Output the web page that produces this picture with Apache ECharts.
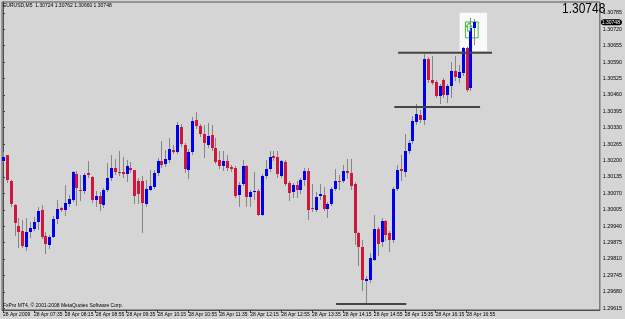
<!DOCTYPE html>
<html><head><meta charset="utf-8">
<script src="https://cdn.jsdelivr.net/npm/echarts@6/dist/echarts.min.js"></script>
<style>html,body{margin:0;padding:0;background:#d5d5d5}#c{width:625px;height:319px}</style>
</head><body><div id="c"></div>
<script>
const symbol = 'EURUSD,M5';
const copyright = 'FxPro MT4, \u00a9 2001-2008 MetaQuotes Software Corp.';
const opens = [1.30200,1.30220,1.30119,1.30024,1.29941,1.29921,1.29856,1.29917,1.29929,1.29957,
1.30006,1.29901,1.29866,1.29899,1.29969,1.30012,1.30004,1.30028,1.30044,1.30147,
1.30084,1.30078,1.30151,1.30135,1.30042,1.30060,1.30024,1.30084,1.30129,1.30169,
1.30155,1.30153,1.30147,1.30169,1.30161,1.30119,1.30119,1.30028,1.30085,1.30097,
1.30149,1.30198,1.30185,1.30202,1.30242,1.30234,1.30333,1.30262,1.30161,1.30232,
1.30361,1.30335,1.30305,1.30262,1.30301,1.30248,1.30202,1.30177,1.30198,1.30173,
1.30169,1.30064,1.30109,1.30177,1.30056,1.30074,1.30080,1.29986,1.30139,1.30167,
1.30218,1.30214,1.30139,1.30196,1.30111,1.30074,1.30105,1.30085,1.30123,1.30157,
1.30014,1.30006,1.30058,1.30064,1.30010,1.30028,1.30089,1.30119,1.30119,1.30159,
1.30149,1.30107,1.29913,1.29856,1.29721,1.29725,1.29808,1.29927,1.29879,1.29961,
1.29914,1.29887,1.30089,1.30165,1.30153,1.30236,1.30278,1.30351,1.30381,1.30359,
1.30601,1.30519,1.30511,1.30456,1.30519,1.30460,1.30496,1.30555,1.30525,1.30545,
1.30644,1.30486,1.30724];
const highs = [1.30234,1.30222,1.30121,1.30028,1.29973,1.29965,1.29973,1.29955,1.29976,1.30016,
1.30024,1.29917,1.29905,1.29980,1.30044,1.30016,1.30103,1.30064,1.30157,1.30157,
1.30143,1.30151,1.30200,1.30139,1.30078,1.30076,1.30091,1.30189,1.30222,1.30206,
1.30236,1.30216,1.30202,1.30196,1.30163,1.30131,1.30137,1.30123,1.30163,1.30163,
1.30210,1.30276,1.30242,1.30290,1.30262,1.30353,1.30345,1.30270,1.30246,1.30373,
1.30393,1.30345,1.30341,1.30347,1.30341,1.30290,1.30236,1.30236,1.30222,1.30183,
1.30179,1.30115,1.30202,1.30183,1.30084,1.30153,1.30087,1.30147,1.30202,1.30236,
1.30236,1.30236,1.30204,1.30202,1.30119,1.30111,1.30117,1.30131,1.30169,1.30169,
1.30107,1.30076,1.30109,1.30097,1.30036,1.30097,1.30167,1.30143,1.30183,1.30208,
1.30208,1.30115,1.29917,1.29887,1.29741,1.29834,1.29984,1.29937,1.29971,1.29965,
1.29921,1.30097,1.30183,1.30222,1.30305,1.30282,1.30375,1.30422,1.30400,1.30624,
1.30612,1.30614,1.30519,1.30504,1.30527,1.30504,1.30589,1.30614,1.30579,1.30650,
1.30650,1.30765,1.30762];
const lows = [1.30198,1.30115,1.30020,1.29905,1.29858,1.29856,1.29846,1.29897,1.29925,1.29929,
1.29893,1.29834,1.29854,1.29897,1.29953,1.30000,1.29984,1.30020,1.30040,1.30024,
1.30044,1.30072,1.30135,1.30036,1.30018,1.30004,1.30016,1.30080,1.30123,1.30147,
1.30143,1.30135,1.30117,1.30155,1.30032,1.30032,1.29918,1.30020,1.30084,1.30091,
1.30143,1.30175,1.30179,1.30194,1.30230,1.30230,1.30258,1.30155,1.30131,1.30226,
1.30329,1.30298,1.30216,1.30254,1.30242,1.30190,1.30171,1.30163,1.30163,1.30159,
1.30056,1.30018,1.30103,1.30020,1.30020,1.30046,1.29984,1.29984,1.30129,1.30159,
1.30204,1.30133,1.30133,1.30103,1.30044,1.30054,1.30054,1.30072,1.30103,1.29969,
1.30002,1.30000,1.30046,1.30004,1.29978,1.30024,1.30084,1.30089,1.30115,1.30129,
1.30089,1.29871,1.29786,1.29687,1.29638,1.29719,1.29806,1.29826,1.29860,1.29885,
1.29840,1.29879,1.30084,1.30123,1.30139,1.30230,1.30270,1.30345,1.30353,1.30345,
1.30511,1.30504,1.30450,1.30426,1.30452,1.30430,1.30450,1.30519,1.30513,1.30539,
1.30474,1.30480,1.30660];
const closes = [1.30216,1.30123,1.30028,1.29953,1.29917,1.29860,1.29917,1.29931,1.29957,1.30000,
1.29899,1.29868,1.29897,1.29969,1.30008,1.30006,1.30032,1.30048,1.30153,1.30093,
1.30080,1.30143,1.30143,1.30044,1.30060,1.30028,1.30084,1.30129,1.30169,1.30153,
1.30153,1.30145,1.30177,1.30161,1.30060,1.30068,1.30030,1.30089,1.30099,1.30149,
1.30198,1.30183,1.30208,1.30244,1.30234,1.30341,1.30266,1.30165,1.30234,1.30357,
1.30335,1.30307,1.30268,1.30298,1.30248,1.30196,1.30177,1.30198,1.30169,1.30165,
1.30060,1.30105,1.30177,1.30054,1.30076,1.30080,1.29986,1.30139,1.30167,1.30216,
1.30212,1.30147,1.30198,1.30109,1.30070,1.30105,1.30085,1.30123,1.30157,1.30006,
1.30008,1.30054,1.30068,1.30010,1.30028,1.30089,1.30119,1.30115,1.30159,1.30149,
1.30101,1.29914,1.29856,1.29725,1.29729,1.29812,1.29927,1.29871,1.29961,1.29907,
1.29885,1.30089,1.30163,1.30159,1.30236,1.30268,1.30355,1.30385,1.30359,1.30601,
1.30519,1.30509,1.30456,1.30496,1.30460,1.30496,1.30553,1.30529,1.30549,1.30644,
1.30480,1.30724,1.30748];

const xTickIndex = [0,8,16,24,32,40,48,56,64,72,80,88,96,104,112,120];
const xTickLabels = ['28 Apr 2009','28 Apr 07:35','28 Apr 08:15','28 Apr 08:55','28 Apr 09:35','28 Apr 10:15',
 '28 Apr 10:55','28 Apr 11:35','28 Apr 12:15','28 Apr 12:55','28 Apr 13:35','28 Apr 14:15','28 Apr 14:55',
 '28 Apr 15:35','28 Apr 16:15','28 Apr 16:55'];
const yTickValues = [1.29615,1.29680,1.29745,1.29810,1.29875,1.29940,1.30005,1.30070,1.30135,1.30200,
 1.30265,1.30330,1.30395,1.30460,1.30525,1.30590,1.30655,1.30720,1.30785];

// drawn trend-level objects: [fromBar, toBar, price]
const levelFrom = [102.3, 101.3, 86.2];
const levelTo = [126.6, 123.5, 104.4];
const levelPrice = [1.30627, 1.30412, 1.29632];
// highlight box around last bars: bars and prices
const boxBars = [118.2, 125.3];
const boxPrices = [1.30785, 1.30634];
const markBars = [119.7, 123.0];
const markPrices = [1.30749, 1.30686];
const arrowAt = [120.6, 1.30729];

const FONT = 'Liberation Sans, Arial, sans-serif';
const BULL = '#0000f0', BEAR = '#d0163c', WICK = '#858585';
const n = opens.length;
const lastO = opens[n-1], lastH = highs[n-1], lastL = lows[n-1], lastC = closes[n-1];
const candleData = opens.map((o, i) => [i, o, highs[i], lows[i], closes[i]]);

const chart = echarts.init(document.getElementById('c'), null, {renderer: 'canvas'});

const levelSeries = levelPrice.map((p, k) => ({
  type: 'line', silent: true, z: 6, symbol: 'none', animation: false,
  data: [[levelFrom[k], p], [levelTo[k], p]],
  lineStyle: {color: '#454545', width: 2}
}));

chart.setOption({
  animation: false,
  backgroundColor: '#d5d5d5',
  axisPointer: {triggerOn: 'none'},
  title: [
    {text: symbol + '  ' + [lastO, lastH, lastL, lastC].map(v => v.toFixed(5)).join(' '),
     left: 3, top: 3, padding: 0,
     textStyle: {fontSize: 5, fontWeight: 'normal', color: '#000', fontFamily: FONT}},
    {text: copyright, left: 3, top: 303, padding: 0,
     textStyle: {fontSize: 5, fontWeight: 'normal', color: '#000', fontFamily: FONT}}
  ],
  graphic: [
    {type: 'text', x: 562, y: 1.5, scaleX: 0.8, silent: true, z: 100,
     style: {text: lastC.toFixed(5), fontSize: 15, fontFamily: FONT, fill: '#000', textBaseline: 'top'}}
  ],
  grid: {left: 1, right: 19, top: 2, bottom: 9, show: true, borderColor: '#505050', borderWidth: 1,
         backgroundColor: 'transparent'},
  xAxis: {
    type: 'value', min: -0.24, max: 154.5,
    splitLine: {show: false},
    axisLine: {show: true, lineStyle: {color: '#505050'}},
    axisTick: {show: true, customValues: xTickIndex, length: 3, lineStyle: {color: '#404040'}},
    axisLabel: {customValues: xTickIndex, align: 'left', margin: 2, fontSize: 5, color: '#000',
      fontFamily: FONT,
      formatter: v => { const k = xTickIndex.indexOf(Math.round(v)); return k >= 0 ? xTickLabels[k] : ''; }}
  },
  yAxis: {
    type: 'value', position: 'right', min: 1.29608, max: 1.30828, scale: true,
    splitLine: {show: false},
    axisLine: {show: true, lineStyle: {color: '#505050'}},
    axisTick: {show: true, customValues: yTickValues, length: 2, lineStyle: {color: '#404040'}},
    axisLabel: {customValues: yTickValues, margin: 3, fontSize: 5.3, color: '#000', fontFamily: FONT,
      formatter: v => v.toFixed(5)},
    axisPointer: {show: true, status: 'show', value: lastC, snap: false, triggerTooltip: false,
      lineStyle: {opacity: 0, width: 0},
      label: {show: true, formatter: p => Number(p.value).toFixed(5), backgroundColor: '#000',
        color: '#fff', fontSize: 5, fontFamily: FONT, padding: [1, 2, 0, 1], margin: 1}}
  },
  series: [
    {type: 'line', data: [], silent: true, z: 1,
     markArea: {silent: true, itemStyle: {color: '#fafafa'},
       data: [[{coord: [boxBars[0], boxPrices[0]]}, {coord: [boxBars[1], boxPrices[1]]}]]}},
    {type: 'line', data: [], silent: true, z: 2,
     markArea: {silent: true, itemStyle: {color: 'rgba(0,0,0,0)', borderColor: '#3dbb3d', borderWidth: 1},
       data: [[{coord: [markBars[0], markPrices[0]]}, {coord: [markBars[1], markPrices[1]]}]]},
     markPoint: {silent: true, symbol: 'path://M5,0 L10,5 L7,5 L7,11 L3,11 L3,5 L0,5 Z', symbolSize: [6, 8],
       itemStyle: {color: '#fafafa', borderColor: '#3dbb3d', borderWidth: 1}, label: {show: false},
       data: [{coord: arrowAt}]}},
    {
      type: 'custom', z: 4, silent: true,
      data: candleData,
      encode: {x: 0, y: [1, 2, 3, 4]},
      renderItem: function (params, api) {
        const i = api.value(0), o = api.value(1), h = api.value(2), l = api.value(3), c = api.value(4);
        const pO = api.coord([i, o]), pC = api.coord([i, c]), pH = api.coord([i, h]), pL = api.coord([i, l]);
        const x = Math.round(pO[0]);
        const top = Math.round(Math.min(pO[1], pC[1]));
        const bot = Math.round(Math.max(pO[1], pC[1]));
        const col = c > o ? BULL : (c < o ? BEAR : WICK);
        return {type: 'group', children: [
          {type: 'line', shape: {x1: x + 0.5, y1: Math.round(pH[1]), x2: x + 0.5, y2: Math.round(pL[1]) + 1},
           style: {stroke: WICK, lineWidth: 1}},
          {type: 'rect', shape: {x: x - 1, y: top, width: 3, height: Math.max(1, bot - top)},
           style: {fill: col}}
        ]};
      }
    },
    ...levelSeries
  ]
});
</script></body></html>
